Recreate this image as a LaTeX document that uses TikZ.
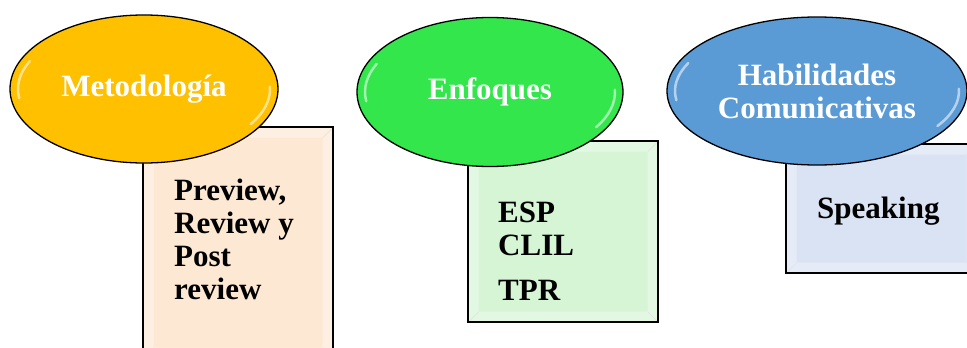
\documentclass[tikz,border=0pt]{standalone}
\usepackage{fontspec}
\setmainfont{Liberation Serif}
\usetikzlibrary{shapes.geometric}
\definecolor{oroMet}{HTML}{FFC000}
\definecolor{verdeEnf}{RGB}{50,230,75}
\definecolor{azulHab}{HTML}{5B9BD5}
\definecolor{crema}{HTML}{FDE9D3}
\definecolor{menta}{RGB}{213,245,213}
\definecolor{grisAzul}{HTML}{DAE3F3}

\begin{document}
\begin{tikzpicture}[x=1pt, y=-1pt,
    oval/.style n args={3}{
      ellipse, draw=black, line width=1.3pt, fill=#1, inner sep=0pt,
      minimum width=#2, minimum height=#3, align=center, text=white,
      font=\fontsize{31}{33}\selectfont\bfseries,
      path picture={
        \draw[white, opacity=.55, line width=2.5pt, line cap=round]
          ([shift={(155:{#2/2-8pt} and {#3/2-8pt})}]path picture bounding box.center)
          arc[start angle=155, end angle=188, x radius={#2/2-8pt}, y radius={#3/2-8pt}];
        \draw[white, opacity=.55, line width=2.5pt, line cap=round]
          ([shift={(-32:{#2/2-8pt} and {#3/2-8pt})}]path picture bounding box.center)
          arc[start angle=-32, end angle=2, x radius={#2/2-8pt}, y radius={#3/2-8pt}];
      }
    },
    panel/.style n args={3}{
      rectangle, draw=black, line width=1.4pt, fill=#1, anchor=north west,
      inner sep=0pt, minimum width=#2, minimum height=#3,
      path picture={
        \fill[white, opacity=.35, even odd rule]
          (path picture bounding box.north west) rectangle (path picture bounding box.south east)
          ([xshift=11pt,yshift=-11pt]path picture bounding box.north west)
          rectangle ([xshift=-11pt,yshift=11pt]path picture bounding box.south east);
        \draw[black!12, line width=.5pt]
          (path picture bounding box.north west) -- ([xshift=11pt,yshift=-11pt]path picture bounding box.north west)
          (path picture bounding box.north east) -- ([xshift=-11pt,yshift=-11pt]path picture bounding box.north east)
          (path picture bounding box.south west) -- ([xshift=11pt,yshift=11pt]path picture bounding box.south west)
          (path picture bounding box.south east) -- ([xshift=-11pt,yshift=11pt]path picture bounding box.south east);
        \draw[black, line width=2.6pt]
          (path picture bounding box.north west) rectangle (path picture bounding box.south east);
      }
    },
    lbl/.style={font=\fontsize{31}{33}\selectfont\bfseries, align=left,
      anchor=north west, inner sep=0pt}
  ]
  \useasboundingbox (0,0) rectangle (967,348);

  % cajas de contenido
  \node[panel={crema}{191pt}{232pt}] (b1) at (142,126) {};
  \node[panel={menta}{191pt}{182pt}] (b2) at (467,140) {};
  \node[panel={grisAzul}{192pt}{130pt}] (b3) at (785,143) {};

  \node[lbl] (t1) at ([xshift=32pt,yshift=-53pt]b1.north west)
    {Preview,\\Review y\\Post\\review};
  \node[lbl] (t2) at ([xshift=31pt,yshift=-62pt]b2.north west)
    {ESP\\CLIL\\[12pt]TPR};
  \node[lbl] (t3) at ([xshift=32pt,yshift=-54pt]b3.north west) {Speaking};

  % elipses de categorias
  \node[oval={oroMet}{268pt}{148pt}] (e1) at (144,89) {Metodología};
  \node[oval={verdeEnf}{266pt}{149pt}] (e2) at (490,92) {Enfoques};
  \node[oval={azulHab}{300pt}{148pt}] (e3) at (817,91) {Habilidades\\Comunicativas};
\end{tikzpicture}
\end{document}
